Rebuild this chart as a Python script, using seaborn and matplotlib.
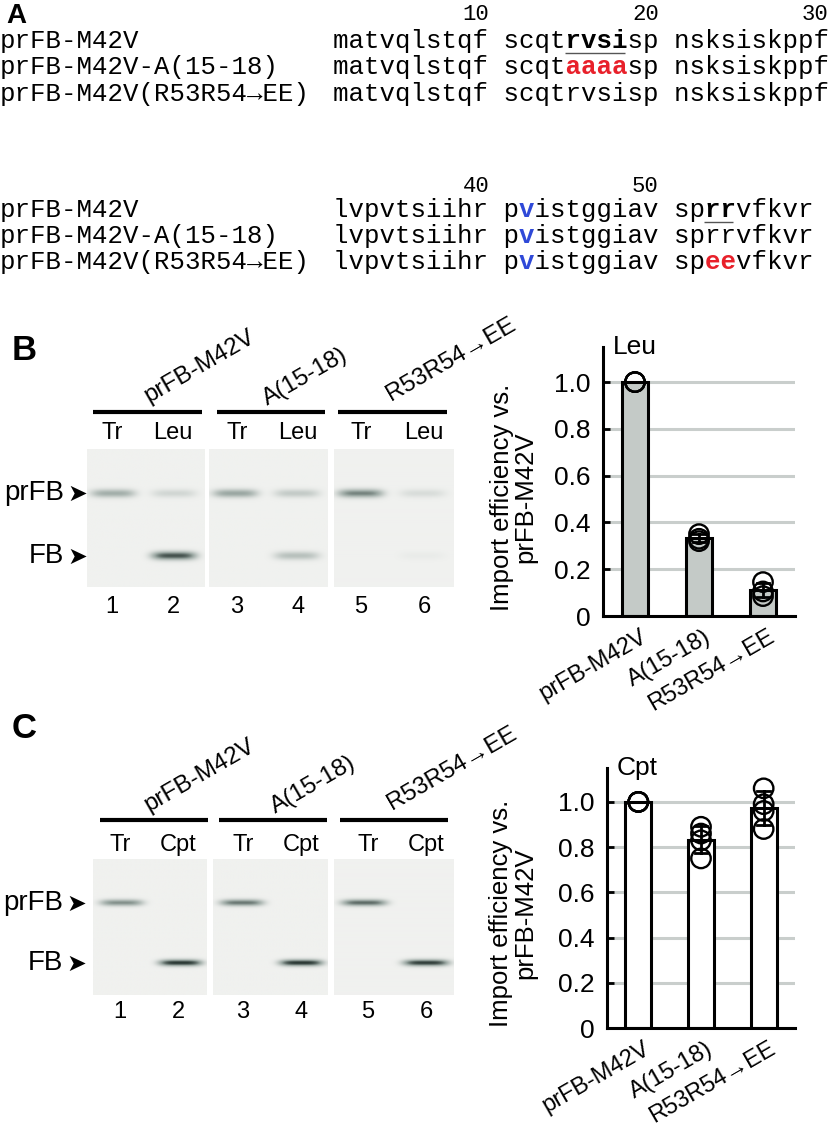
import numpy as np
import pandas as pd
import matplotlib
matplotlib.use("Agg")
import matplotlib.pyplot as plt
import matplotlib.transforms as mtrans
from matplotlib.lines import Line2D
from matplotlib.colors import LinearSegmentedColormap
import seaborn as sns

# ---------------- data ----------------
groups = ["prFB-M42V", "A(15-18)", "R53R54→EE"]

# import efficiency (relative to prFB-M42V), replicate values
leu_wt = [1.0, 1.0, 1.0]
leu_a = [0.35, 0.33, 0.32]
leu_ee = [0.145, 0.105, 0.085]
cpt_wt = [1.0, 1.0, 1.0, 1.0]
cpt_a = [0.89, 0.86, 0.83, 0.75]
cpt_ee = [1.06, 0.99, 0.96, 0.88]

# sequence alignment (panel A)
seq_names = ["prFB-M42V", "prFB-M42V-A(15-18)", "prFB-M42V(R53R54→EE)"]
seq_part1 = ["matvqlstqf scqtrvsisp nsksiskppf",
             "matvqlstqf scqtaaaasp nsksiskppf",
             "matvqlstqf scqtrvsisp nsksiskppf"]
seq_part2 = ["lvpvtsiihr pvistggiav sprrvfkvr",
             "lvpvtsiihr pvistggiav sprrvfkvr",
             "lvpvtsiihr pvistggiav speevfkvr"]
part_start = [1, 31]
part_numbers = [[10, 20, 30], [40, 50]]
# (part, row, first residue, last residue, colour, underline)
highlights = [(0, 0, 15, 18, "black", True),
              (0, 1, 15, 18, "#e8202a", False),
              (1, 0, 42, 42, "#2f49d8", False),
              (1, 1, 42, 42, "#2f49d8", False),
              (1, 2, 42, 42, "#2f49d8", False),
              (1, 0, 53, 54, "black", True),
              (1, 2, 53, 54, "#e8202a", False)]

# gels: band intensity per lane (prFB band, FB band)
lane_names_b = ["Tr", "Leu"] * 3
lane_names_c = ["Tr", "Cpt"] * 3
lane_numbers = ["1", "2", "3", "4", "5", "6"]
gel_b_prfb = [0.45, 0.18, 0.50, 0.26, 0.65, 0.14]
gel_b_fb = [0.0, 0.85, 0.0, 0.33, 0.0, 0.04]
gel_c_prfb = [0.60, 0.0, 0.70, 0.0, 0.75, 0.0]
gel_c_fb = [0.0, 0.95, 0.0, 0.95, 0.0, 0.92]

# ---------------- figure ----------------
W, H = 829, 1130
fig = plt.figure(figsize=(W / 100, H / 100), dpi=100)
SANS = ["Liberation Sans", "DejaVu Sans"]
MONO = ["Liberation Mono", "DejaVu Sans Mono"]


def P(x, y):
    return x / W, 1 - y / H


def ftext(x, y, s, **kw):
    kw.setdefault("family", SANS)
    return fig.text(*P(x, y), s, **kw)


def fline(x0, x1, y, lw, color="k"):
    fig.add_artist(Line2D([x0 / W, x1 / W], [1 - y / H, 1 - y / H], lw=lw, color=color,
                          transform=fig.transFigure, solid_capstyle="butt"))


# ---- panel A ----
ftext(16, 16, "A", fontsize=20, weight="bold", ha="center", va="center")
mono_pt = 18.5
adv = 0.6 * mono_pt * 100 / 72  # character advance in px
x_seq = 333
base_rows = [[48, 74, 101], [217, 243, 269]]
num_y = [15, 186]


def res_index(res, start):
    k = res - start
    return k + k // 10


for part, seqs in enumerate([seq_part1, seq_part2]):
    start = part_start[part]
    for n in part_numbers[part]:
        i = res_index(n, start)
        ftext(x_seq + (i + 1) * adv + 2, num_y[part], str(n), family=MONO, fontsize=16,
              ha="right", va="center")
    for r, (name, s) in enumerate(zip(seq_names, seqs)):
        yb = base_rows[part][r]
        ftext(0, yb, name, family=MONO, fontsize=mono_pt, va="baseline")
        chars = list(s)
        plain = chars[:]
        for (hp, hr, a, b, col, ul) in highlights:
            if hp != part or hr != r:
                continue
            ia, ib = res_index(a, start), res_index(b, start)
            sub = [" "] * len(chars)
            for i in range(ia, ib + 1):
                sub[i] = chars[i]
                plain[i] = " "
            ftext(x_seq, yb, "".join(sub), family=MONO, fontsize=mono_pt, va="baseline",
                  weight="bold", color=col)
            if ul:
                fline(x_seq + ia * adv + 1, x_seq + (ib + 1) * adv - 1, yb + 5, 1.0, "#555555")
        ftext(x_seq, yb, "".join(plain), family=MONO, fontsize=mono_pt, va="baseline")

# ---- gels ----
gel_cmap = LinearSegmentedColormap.from_list("gel", ["#f0f1ef", "#9aa7a2", "#1d2b27"])


def gel_image(lane_x, prfb, fb, y_pr, y_fb, sy, hw, nx=120, ny=140):
    xx = np.linspace(0, 1, nx)[None, :]
    yy = np.linspace(0, 1, ny)[:, None]
    img = np.zeros((ny, nx))
    for lx, a, b in zip(lane_x, prfb, fb):
        px = np.exp(-((xx - lx) / hw) ** 4)
        img += a * px * np.exp(-((yy - y_pr) / sy) ** 2)
        img += b * px * np.exp(-((yy - y_fb) / sy) ** 2)
    return np.clip(img, 0, 1)


def draw_gel_row(panels, gtop, gbot, lane_x, prfb, fb, y_pr, y_fb, sy, hw):
    for k, (x0, x1) in enumerate(panels):
        ax = fig.add_axes([x0 / W, 1 - gbot / H, (x1 - x0) / W, (gbot - gtop) / H])
        img = gel_image(lane_x, prfb[2 * k:2 * k + 2], fb[2 * k:2 * k + 2], y_pr, y_fb, sy, hw)
        ax.imshow(img, cmap=gel_cmap, vmin=0, vmax=1, aspect="auto", extent=(0, 1, 1, 0),
                  interpolation="bilinear")
        ax.set_axis_off()


def gel_labels(lines, line_y, lab_y, names, lane_px, num_y, grp_xy, pr_y, fb_y, lab_x):
    for (x0, x1) in lines:
        fline(x0, x1, line_y, 3.0)
    for name, (gx, gy) in zip(groups, grp_xy):
        ftext(gx, gy, name, fontsize=17.5, rotation=30, ha="center", va="center",
              rotation_mode="anchor")
    for nm, lx in zip(names, lane_px):
        ftext(lx, lab_y, nm, fontsize=17, ha="center", va="center")
    for nb, lx in zip(lane_numbers, lane_px):
        ftext(lx, num_y, nb, fontsize=17, ha="center", va="center")
    for lab, yy in [("prFB", pr_y), ("FB", fb_y)]:
        ftext(lab_x, yy, lab, fontsize=20, ha="right", va="center")
        ftext(lab_x + 3, yy + 1, "➤", family=["DejaVu Sans"], fontsize=17, ha="left", va="center")


# panel B
ftext(24, 350, "B", fontsize=25, weight="bold", ha="center", va="center")
panels_b = [(87, 205), (209, 328), (334, 453)]
draw_gel_row(panels_b, 449, 587, [0.22, 0.74], gel_b_prfb, gel_b_fb, 0.32, 0.775, 0.030, 0.19)
gel_labels([(93, 202), (217, 325), (338, 447)], 412, 433, lane_names_b,
           [112, 173, 237, 298, 361, 424], 607, [(200, 366), (305, 377), (451, 359)],
           493, 556, 64)

# panel C
ftext(24, 728, "C", fontsize=25, weight="bold", ha="center", va="center")
panels_c = [(93, 207), (213, 328), (334, 453)]
draw_gel_row(panels_c, 859, 995, [0.25, 0.77], gel_c_prfb, gel_c_fb, 0.32, 0.765, 0.024, 0.19)
gel_labels([(100, 208), (219, 327), (340, 448)], 820, 845, lane_names_c,
           [120, 178, 243, 301, 368, 426], 1012, [(200, 775), (313, 785), (452, 768)],
           903, 963, 63)

# ---- bar charts ----
leu_df = pd.DataFrame({"construct": [groups[0]] * len(leu_wt) + [groups[1]] * len(leu_a) + [groups[2]] * len(leu_ee),
                       "eff": leu_wt + leu_a + leu_ee})
cpt_df = pd.DataFrame({"construct": [groups[0]] * len(cpt_wt) + [groups[1]] * len(cpt_a) + [groups[2]] * len(cpt_ee),
                       "eff": cpt_wt + cpt_a + cpt_ee})


def bar_panel(rect, df, fill, title, lab_x):
    ax = fig.add_axes(rect)
    sns.barplot(data=df, x="construct", y="eff", order=groups, color=fill, saturation=1,
                edgecolor="k", linewidth=2.2, width=0.42, errorbar="sd", capsize=0.2,
                err_kws={"color": "k", "linewidth": 2}, ax=ax, zorder=2)
    sns.stripplot(data=df, x="construct", y="eff", order=groups, jitter=False, color="k",
                  size=14, linewidth=1.7, ax=ax, zorder=3)
    for coll in ax.collections:
        coll.set_facecolor("none")
        coll.set_edgecolor("k")
    ax.set_xlim(-0.5, 2.5)
    ax.set_ylim(0, 1.15)
    ax.set_yticks([0, 0.2, 0.4, 0.6, 0.8, 1.0])
    ax.set_yticklabels(["0", "0.2", "0.4", "0.6", "0.8", "1.0"])
    ax.yaxis.grid(True, color="#c9cecc", lw=2.2)
    ax.set_axisbelow(True)
    sns.despine(ax=ax)
    for sp in ["left", "bottom"]:
        ax.spines[sp].set_linewidth(2.2)
    ax.tick_params(axis="y", direction="in", length=5, width=2, labelsize=19, pad=9)
    ax.tick_params(axis="x", length=0, labelsize=17, pad=14)
    shift = mtrans.ScaledTranslation(10 / 100, 0, fig.dpi_scale_trans)
    for lbl in ax.get_xticklabels():
        lbl.set_rotation(30)
        lbl.set_ha("right")
        lbl.set_va("center")
        lbl.set_rotation_mode("anchor")
        lbl.set_transform(lbl.get_transform() + shift)
    for lbl in ax.get_xticklabels() + ax.get_yticklabels():
        lbl.set_family(SANS)
    ax.set_xlabel("")
    ax.set_ylabel("Import efficiency vs.\nprFB-M42V", fontsize=18.5, family=SANS, linespacing=1.0)
    ax.yaxis.set_label_coords(lab_x, 0.44)
    ax.text(0.05, 1.0, title, transform=ax.transAxes, fontsize=19, family=SANS,
            ha="left", va="center")
    return ax


bar_panel([603 / W, 1 - 616 / H, 192 / W, 269 / H], leu_df, "#c4cac7", "Leu", -0.34)
bar_panel([607 / W, 1 - 1028 / H, 188 / W, 260 / H], cpt_df, "white", "Cpt", -0.37)

fig.savefig("out.png", dpi=100)
